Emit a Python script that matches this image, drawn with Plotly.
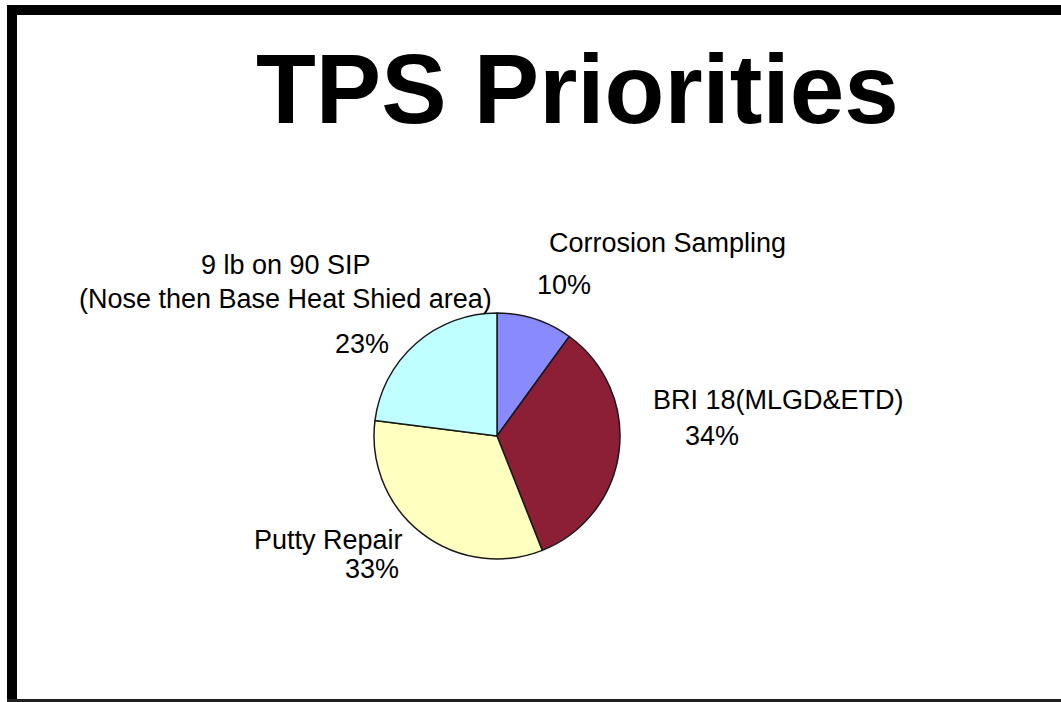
import plotly.graph_objects as go

# ---- data ----
categories = ["Corrosion Sampling", "BRI 18(MLGD&ETD)", "Putty Repair",
              "9 lb on 90 SIP<br>(Nose then Base Heat Shied area)"]
values = [10, 34, 33, 23]
colors = ["#8A8AFF", "#8C1F35", "#FFFFC0", "#C0FFFF"]
title_text = "TPS Priorities"

W, H = 1061, 702

def px(x):
    return x / W

def py(y):
    return 1 - y / H

# pie geometry (pixels)
cx, cy, r = 497, 436, 123

fig = go.Figure()
fig.add_trace(go.Pie(
    labels=categories,
    values=values,
    sort=False,
    direction="clockwise",
    rotation=0,
    marker=dict(colors=colors, line=dict(color="#1a1a1a", width=1.5)),
    textinfo="none",
    hoverinfo="label+percent",
    showlegend=False,
    domain=dict(x=[px(cx - r), px(cx + r)], y=[py(cy + r), py(cy - r)]),
))

# label layout: (text, centre x, centre y) in pixels
label_lines = [
    (categories[0], 667, 243),
    (f"{values[0]}%", 564, 285),
    (categories[1], 778, 400),
    (f"{values[1]}%", 712, 436),
    (categories[2], 328, 540),
    (f"{values[2]}%", 372, 569),
    (categories[3].split("<br>")[0], 286, 265),
    (categories[3].split("<br>")[1], 285, 299),
    (f"{values[3]}%", 362, 344),
]

annotations = []
for text, x, y in label_lines:
    annotations.append(dict(
        text=text, x=px(x), y=py(y), xref="paper", yref="paper",
        xanchor="center", yanchor="middle", showarrow=False,
        font=dict(family="Liberation Sans, Arial, sans-serif", size=27, color="#000000"),
    ))

annotations.append(dict(
    text=f"<b>{title_text}</b>", x=px(577), y=py(89), xref="paper", yref="paper",
    xanchor="center", yanchor="middle", showarrow=False,
    font=dict(family="Liberation Sans, Arial, sans-serif", size=98, color="#000000"),
))

shapes = [
    # top thick border
    dict(type="rect", xref="paper", yref="paper", x0=px(7), x1=px(1061),
         y0=py(15), y1=py(5), fillcolor="#000000", line=dict(width=0)),
    # left thick border
    dict(type="rect", xref="paper", yref="paper", x0=px(7), x1=px(17),
         y0=py(702), y1=py(5), fillcolor="#000000", line=dict(width=0)),
    # bottom border
    dict(type="rect", xref="paper", yref="paper", x0=px(7), x1=px(1061),
         y0=py(702), y1=py(699), fillcolor="#202020", line=dict(width=0)),
]

fig.update_layout(
    width=W, height=H,
    margin=dict(l=0, r=0, t=0, b=0),
    paper_bgcolor="white", plot_bgcolor="white",
    annotations=annotations,
    shapes=shapes,
)

fig.write_html("out.html", config={"displayModeBar": False},
               post_script="document.body.style.margin='0px';")
